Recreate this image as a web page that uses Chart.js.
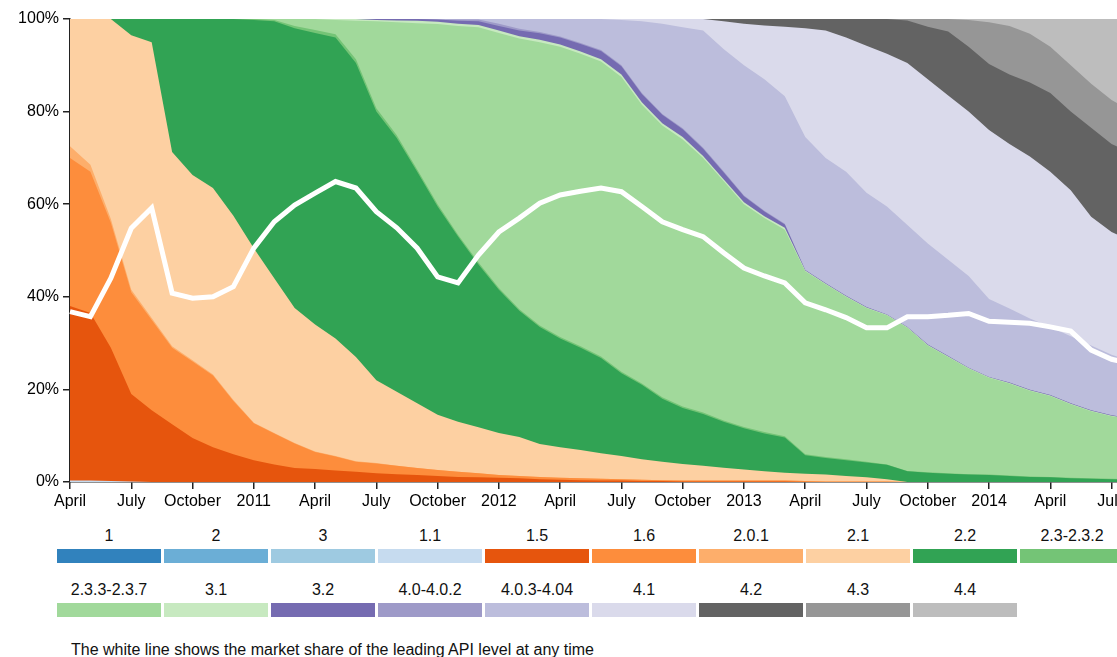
<!DOCTYPE html>
<html><head><meta charset="utf-8">
<script src="https://cdn.jsdelivr.net/npm/chart.js@4.4.1/dist/chart.umd.min.js"></script>
<style>
html,body{margin:0;padding:0;background:#fff;overflow:hidden;width:1117px;height:657px;position:relative;}
#wrap{position:absolute;left:0;top:0;width:1140px;height:520px;}
#legend{position:absolute;left:57px;top:527px;width:1080px;display:flex;flex-wrap:wrap;row-gap:18px;}
.item{width:104px;margin-right:3px;flex:none;}
.item .lab{height:20px;line-height:20px;text-align:center;font:16px "Liberation Sans",Arial,Helvetica,sans-serif;color:#111;white-space:nowrap;}
.item .bar{height:14px;margin-top:2px;}
#note{position:absolute;left:71px;top:641px;font:16px "Liberation Sans",Arial,Helvetica,sans-serif;color:#111;line-height:18px;white-space:nowrap;}
</style></head><body>
<div id="wrap"><canvas id="c" width="1140" height="520"></canvas></div>
<div id="legend"></div>
<div id="note">The white line shows the market share of the leading API level at any time</div>
<script>
// ---- categories (one sample per month) ----
const dates = ['2010-04','2010-05','2010-06','2010-07','2010-08','2010-09','2010-10','2010-11','2010-12',
 '2011-01','2011-02','2011-03','2011-04','2011-05','2011-06','2011-07','2011-08','2011-09','2011-10','2011-11','2011-12',
 '2012-01','2012-02','2012-03','2012-04','2012-05','2012-06','2012-07','2012-08','2012-09','2012-10','2012-11','2012-12',
 '2013-01','2013-02','2013-03','2013-04','2013-05','2013-06','2013-07','2013-08','2013-09','2013-10','2013-11','2013-12',
 '2014-01','2014-02','2014-03','2014-04','2014-05','2014-06','2014-07','2014-08'];

// ---- x tick labels ----
const tickDates = ['2010-04','2010-07','2010-10','2011-01','2011-04','2011-07','2011-10','2012-01','2012-04',
 '2012-07','2012-10','2013-01','2013-04','2013-07','2013-10','2014-01','2014-04','2014-07'];
const tickTexts = ['April','July','October','2011','April','July','October','2012','April',
 'July','October','2013','April','July','October','2014','April','July'];
const yTicks = [0,20,40,60,80,100];

// ---- series values (% share) ----
const vZero = [0,0,0,0,0,0,0,0,0,0, 0,0,0,0,0,0,0,0,0,0, 0,0,0,0,0,0,0,0,0,0, 0,0,0,0,0,0,0,0,0,0, 0,0,0,0,0,0,0,0,0,0, 0,0,0];
const v11 = [0.3,0.3,0.2,0.1,0,0,0,0,0,0, 0,0,0,0,0,0,0,0,0,0, 0,0,0,0,0,0,0,0,0,0, 0,0,0,0,0,0,0,0,0,0, 0,0,0,0,0,0,0,0,0,0, 0,0,0];
const v15 = [37.7,36.2,28.8,18.9,15.5,12.5,9.5,7.5,6,4.7, 3.8,3,2.8,2.5,2.2,1.9,1.7,1.5,1.3,1.1, 1.0,0.9,0.8,0.6,0.5,0.4,0.3,0.3,0.2,0.2, 0.1,0.1,0.1,0.1,0.1,0.1,0,0,0,0, 0,0,0,0,0,0,0,0,0,0, 0,0,0];
const v16 = [32,30.5,27,22,19.5,16.5,16.5,15.5,11.5,8, 6.7,5.3,3.7,3,2.2,2.1,1.8,1.5,1.3,1.1, 0.9,0.6,0.5,0.5,0.4,0.4,0.4,0.3,0.3,0.2, 0.2,0.2,0.2,0.2,0.2,0.2,0.2,0.1,0.1,0.1, 0.1,0,0,0,0,0,0,0,0,0, 0,0,0];
const v201 = [2.5,1.5,0.8,0.5,0.4,0.3,0.3,0.2,0.2,0.1, 0.1,0.1,0.1,0.1,0.1,0.1,0,0,0,0, 0,0,0,0,0,0,0,0,0,0, 0,0,0,0,0,0,0,0,0,0, 0,0,0,0,0,0,0,0,0,0, 0,0,0];
const v21 = [27.5,31.5,43.2,55,59.6,42,40,40.3,39.8,37.7, 33.4,29.2,27.4,25.4,22.5,17.9,16,14,11.9,10.8, 9.9,9.1,8.4,7.1,6.6,6.1,5.5,5.0,4.4,4.0, 3.6,3.2,2.8,2.4,2.0,1.7,1.6,1.5,1.2,0.9, 0.5,0,0,0,0,0,0,0,0,0, 0,0,0];
const v22 = [0,0,0,3.5,5,28.7,33.7,36.5,42.5,49.3, 55.5,60.4,63,65,63.5,58,54.8,50,45,40, 35.2,30.9,27.3,25.3,23.5,22.1,20.6,17.9,16.1,13.6, 12.1,11.2,9.9,8.9,8.2,7.6,4.0,3.6,3.4,3.2, 3.1,2.3,2.0,1.8,1.6,1.5,1.3,1.1,1.0,0.8, 0.7,0.6,0.5];
const v23 = [0,0,0,0,0,0,0,0,0,0.2, 0.3,0.5,0.6,0.7,0.8,0.7,0.6,0.5,0.5,0.4, 0.4,0.4,0.3,0.3,0.3,0.3,0.3,0.3,0.3,0.3, 0.3,0.3,0.3,0.3,0.3,0.3,0.2,0.2,0.2,0.2, 0.1,0.1,0.1,0.1,0.1,0.1,0.1,0.1,0.1,0.1, 0.1,0.1,0.1];
const v233 = [0,0,0,0,0,0,0,0,0,0, 0.2,1.5,2.4,3.1,8.3,18.8,24.4,31.6,38.9,45.1, 50.8,55.1,58.5,61.2,62.7,63.2,63.7,63.7,60.2,58.7, 57.7,55,51.7,48.1,46.2,44.6,39.5,37.3,35.1,33.2, 32.2,30.9,27.4,25.1,22.8,20.9,19.9,18.5,17.5,15.9, 14.5,13.5,12.9];
const v31 = [0,0,0,0,0,0,0,0,0,0, 0,0,0,0.2,0.4,0.3,0.4,0.5,0.5,0.5, 0.5,0.5,0.5,0.5,0.5,0.5,0.5,0.5,0.5,0.5, 0.5,0.4,0.4,0.4,0.4,0.4,0.2,0.1,0.1,0.1, 0.1,0.1,0.1,0.1,0.1,0.1,0.1,0.1,0.1,0.1, 0.1,0.1,0.1];
const v32 = [0,0,0,0,0,0,0,0,0,0, 0,0,0,0,0,0.2,0.3,0.4,0.5,0.6, 0.8,1.0,1.2,1.4,1.5,1.6,1.8,1.8,1.8,1.8, 1.7,1.6,1.5,1.3,1.0,0.7,0.1,0.1,0.1,0.1, 0.1,0.1,0.1,0.1,0.1,0.1,0.1,0.1,0.1,0.1, 0.1,0.1,0.1];
const v40 = [0,0,0,0,0,0,0,0,0,0, 0,0,0,0,0,0,0,0,0,0.3, 0.4,0.5,0.4,0.3,0.2,0.2,0.2,0.2,0.2,0.2, 0.2,0.2,0.2,0.2,0.2,0.2,0,0,0,0, 0,0,0,0,0,0,0,0,0,0, 0,0,0];
const v403 = [0,0,0,0,0,0,0,0,0,0, 0,0,0,0,0,0,0,0,0.1,0.1, 0.1,1.0,2.1,2.8,3.8,5.2,6.7,9.8,15.5,19.5, 21.8,25.3,26.4,28.1,28.4,27.5,28.7,27.1,26.8,24.7, 23.3,22,21.8,20.8,19.8,16.8,16,15.4,14.7,14.5, 14,13.1,12.3];
const v41 = [0,0,0,0,0,0,0,0,0,0, 0,0,0,0,0,0,0,0,0,0, 0,0,0,0,0,0,0,0.2,0.5,1.0, 1.8,2.5,6,9,11.6,15,23.5,27.5,29,31.7, 33,35,35.5,35.5,35.5,36.5,35.5,35,33.5,31.5, 27.8,26.5,26];
const v42 = [0,0,0,0,0,0,0,0,0,0, 0,0,0,0,0,0,0,0,0,0, 0,0,0,0,0,0,0,0,0,0, 0,0,0.5,1,1.4,1.7,2,2.5,4,5.8, 7.5,9.2,11.3,13.8,14,14.3,15,16,17,17, 19.2,19,19];
const v43 = [0,0,0,0,0,0,0,0,0,0, 0,0,0,0,0,0,0,0,0,0, 0,0,0,0,0,0,0,0,0,0, 0,0,0,0,0,0,0,0,0,0, 0,0.3,1.7,2.7,5.8,9,10.5,10.5,10,10, 9.5,9.5,9];
const v44 = [0,0,0,0,0,0,0,0,0,0, 0,0,0,0,0,0,0,0,0,0, 0,0,0,0,0,0,0,0,0,0, 0,0,0,0,0,0,0,0,0,0, 0,0,0,0,0.2,0.7,1.5,3.2,6,10, 14,17.5,20];
// market share of the leading API level (white line)
const leadShare = [36.8,35.7,44,54.8,59.2,40.8,39.7,40,42.2,50.5, 56.2,59.8,62.4,64.9,63.5,58.4,54.9,50.5,44.3,43, 49,54,57,60.2,62,62.8,63.5,62.7,59.5,56.2, 54.5,53,49.5,46.2,44.5,43,38.7,37.2,35.5,33.3, 33.3,35.7,35.7,36,36.4,34.7,34.5,34.3,33.5,32.6, 28.5,26.5,25.5];

const seriesNames = ['1','2','3','1.1','1.5','1.6','2.0.1','2.1','2.2','2.3-2.3.2','2.3.3-2.3.7','3.1','3.2','4.0-4.0.2','4.0.3-4.04','4.1','4.2','4.3','4.4'];
const seriesValues = [vZero,vZero,vZero,v11,v15,v16,v201,v21,v22,v23,v233,v31,v32,v40,v403,v41,v42,v43,v44];
const palette = ['#3182bd','#6baed6','#9ecae1','#c6dbef','#e6550d','#fd8d3c','#fdae6b','#fdd0a2','#31a354','#74c476','#a1d99b','#c7e9c0','#756bb1','#9e9ac8','#bcbddc','#dadaeb','#636363','#969696','#bdbdbd'];

const FONT = '"Liberation Sans", Arial, Helvetica, sans-serif';
const tickMap = {};
tickDates.forEach((d,i)=>{ tickMap[d] = tickTexts[i]; });

const datasets = seriesNames.map((n,i)=>({
  label: n, data: seriesValues[i], backgroundColor: palette[i], borderColor: 'rgba(0,0,0,0)',
  borderWidth: 0, pointRadius: 0, fill: 'origin', stack: 'share', tension: 0
}));
datasets.push({label:'leading', data: leadShare, borderColor:'#ffffff', borderWidth:5, pointRadius:0,
  fill:false, stack:'lead', order:-1, tension:0, borderJoinStyle:'miter', borderCapStyle:'butt'});

new Chart(document.getElementById('c'), {
  type: 'line',
  data: { labels: dates, datasets },
  options: {
    responsive: false, animation: false, events: [],
    layout: { padding: { top: 19, right: 8, left: 0, bottom: 0 } },
    plugins: { legend: { display: false }, tooltip: { enabled: false } },
    scales: {
      x: {
        type: 'category', offset: false,
        grid: { drawOnChartArea: false, drawTicks: true, tickLength: 7, color: '#222', lineWidth: 1.5 },
        border: { display: true, color: '#222', width: 1.5 },
        ticks: { autoSkip: false, maxRotation: 0, padding: 3, color: '#000', font: { family: FONT, size: 16 },
          callback: function(v){ return tickMap[this.getLabelForValue(v)] || ''; } },
        afterBuildTicks: s => { s.ticks = s.ticks.filter(t => tickMap[dates[t.value]] !== undefined); },
        afterFit: s => { s.height = 38; }
      },
      y: {
        stacked: true, min: 0, max: 100,
        grid: { drawOnChartArea: false, drawTicks: true, tickLength: 7, color: '#222', lineWidth: 1.5 },
        border: { display: true, color: '#222', width: 1.5 },
        ticks: { padding: 4, color: '#000', font: { family: FONT, size: 16 }, callback: v => v + '%' },
        afterBuildTicks: s => { s.ticks = yTicks.map(v => ({ value: v })); },
        afterFit: s => { s.width = 70; }
      }
    }
  }
});

// legend built from the same series names / colours
const lg = document.getElementById('legend');
seriesNames.forEach((n,i)=>{
  const it = document.createElement('div'); it.className = 'item';
  const lab = document.createElement('div'); lab.className = 'lab'; lab.textContent = n;
  const bar = document.createElement('div'); bar.className = 'bar'; bar.style.background = palette[i];
  it.appendChild(lab); it.appendChild(bar); lg.appendChild(it);
});
</script>
</body></html>
